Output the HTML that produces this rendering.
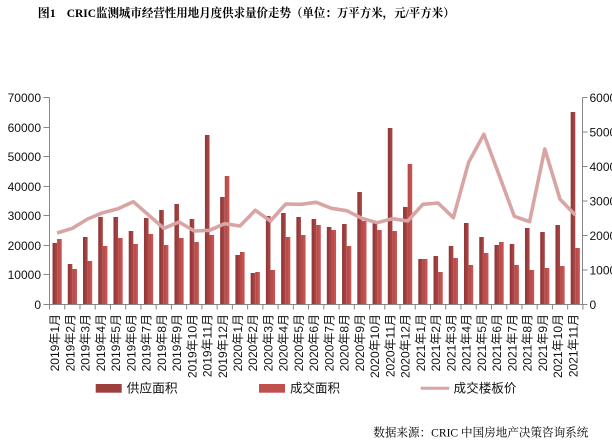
<!DOCTYPE html>
<html><head><meta charset="utf-8"><style>
html,body{margin:0;padding:0;background:#fff;}
svg{display:block;}
.ax{font-family:"Liberation Sans","Noto Sans CJK SC",sans-serif;font-size:12px;fill:#111;}
.lg{font-family:"Liberation Sans","Noto Sans CJK SC",sans-serif;font-size:12.5px;fill:#111;}
.tt{font-family:"Liberation Serif","Noto Serif CJK SC",serif;font-size:12px;font-weight:bold;fill:#000;}
.src{font-family:"Liberation Serif","Noto Serif CJK SC",serif;font-size:12px;fill:#000;}
</style></head><body>
<svg width="612" height="443" viewBox="0 0 612 443" xmlns="http://www.w3.org/2000/svg">
<defs>
<linearGradient id="gd" x1="0" y1="0" x2="1" y2="0"><stop offset="0" stop-color="#933838"/><stop offset="0.45" stop-color="#973a3a"/><stop offset="0.55" stop-color="#a44343"/><stop offset="1" stop-color="#a64444"/></linearGradient>
<linearGradient id="gl" x1="0" y1="0" x2="1" y2="0"><stop offset="0" stop-color="#b84a48"/><stop offset="0.45" stop-color="#bb4c4a"/><stop offset="0.55" stop-color="#c45351"/><stop offset="1" stop-color="#c65553"/></linearGradient>
</defs>
<text class="tt" x="37.7" y="17">图1</text>
<text class="tt" x="66.7" y="17" textLength="388" lengthAdjust="spacingAndGlyphs">CRIC监测城市经营性用地月度供求量价走势（单位：万平方米，元/平方米）</text>

<g fill="url(#gd)">
<rect x="52.52" y="243" width="4.6" height="61.5"/>
<rect x="67.76" y="264" width="4.6" height="40.5"/>
<rect x="83.00" y="237" width="4.6" height="67.5"/>
<rect x="98.24" y="217" width="4.6" height="87.5"/>
<rect x="113.48" y="217" width="4.6" height="87.5"/>
<rect x="128.72" y="231" width="4.6" height="73.5"/>
<rect x="143.96" y="218" width="4.6" height="86.5"/>
<rect x="159.20" y="210" width="4.6" height="94.5"/>
<rect x="174.44" y="204" width="4.6" height="100.5"/>
<rect x="189.68" y="219" width="4.6" height="85.5"/>
<rect x="204.92" y="135" width="4.6" height="169.5"/>
<rect x="220.16" y="197" width="4.6" height="107.5"/>
<rect x="235.40" y="255" width="4.6" height="49.5"/>
<rect x="250.64" y="273" width="4.6" height="31.5"/>
<rect x="265.88" y="216" width="4.6" height="88.5"/>
<rect x="281.12" y="213" width="4.6" height="91.5"/>
<rect x="296.36" y="217" width="4.6" height="87.5"/>
<rect x="311.60" y="219" width="4.6" height="85.5"/>
<rect x="326.84" y="227" width="4.6" height="77.5"/>
<rect x="342.08" y="224" width="4.6" height="80.5"/>
<rect x="357.32" y="192" width="4.6" height="112.5"/>
<rect x="372.56" y="223" width="4.6" height="81.5"/>
<rect x="387.80" y="128" width="4.6" height="176.5"/>
<rect x="403.04" y="207" width="4.6" height="97.5"/>
<rect x="418.28" y="259" width="4.6" height="45.5"/>
<rect x="433.52" y="256" width="4.6" height="48.5"/>
<rect x="448.76" y="246" width="4.6" height="58.5"/>
<rect x="464.00" y="223" width="4.6" height="81.5"/>
<rect x="479.24" y="237" width="4.6" height="67.5"/>
<rect x="494.48" y="245" width="4.6" height="59.5"/>
<rect x="509.72" y="244" width="4.6" height="60.5"/>
<rect x="524.96" y="228" width="4.6" height="76.5"/>
<rect x="540.20" y="232" width="4.6" height="72.5"/>
<rect x="555.44" y="225" width="4.6" height="79.5"/>
<rect x="570.68" y="112" width="4.6" height="192.5"/>
</g>
<g fill="url(#gl)">
<rect x="57.12" y="239" width="4.6" height="65.5"/>
<rect x="72.36" y="269" width="4.6" height="35.5"/>
<rect x="87.60" y="261" width="4.6" height="43.5"/>
<rect x="102.84" y="246" width="4.6" height="58.5"/>
<rect x="118.08" y="238" width="4.6" height="66.5"/>
<rect x="133.32" y="244" width="4.6" height="60.5"/>
<rect x="148.56" y="234" width="4.6" height="70.5"/>
<rect x="163.80" y="245" width="4.6" height="59.5"/>
<rect x="179.04" y="238" width="4.6" height="66.5"/>
<rect x="194.28" y="242" width="4.6" height="62.5"/>
<rect x="209.52" y="235" width="4.6" height="69.5"/>
<rect x="224.76" y="176" width="4.6" height="128.5"/>
<rect x="240.00" y="252" width="4.6" height="52.5"/>
<rect x="255.24" y="272" width="4.6" height="32.5"/>
<rect x="270.48" y="270" width="4.6" height="34.5"/>
<rect x="285.72" y="237" width="4.6" height="67.5"/>
<rect x="300.96" y="235" width="4.6" height="69.5"/>
<rect x="316.20" y="225" width="4.6" height="79.5"/>
<rect x="331.44" y="230" width="4.6" height="74.5"/>
<rect x="346.68" y="246" width="4.6" height="58.5"/>
<rect x="361.92" y="221" width="4.6" height="83.5"/>
<rect x="377.16" y="230" width="4.6" height="74.5"/>
<rect x="392.40" y="231" width="4.6" height="73.5"/>
<rect x="407.64" y="164" width="4.6" height="140.5"/>
<rect x="422.88" y="259" width="4.6" height="45.5"/>
<rect x="438.12" y="272" width="4.6" height="32.5"/>
<rect x="453.36" y="258" width="4.6" height="46.5"/>
<rect x="468.60" y="265" width="4.6" height="39.5"/>
<rect x="483.84" y="253" width="4.6" height="51.5"/>
<rect x="499.08" y="242" width="4.6" height="62.5"/>
<rect x="514.32" y="265" width="4.6" height="39.5"/>
<rect x="529.56" y="270" width="4.6" height="34.5"/>
<rect x="544.80" y="268" width="4.6" height="36.5"/>
<rect x="560.04" y="266" width="4.6" height="38.5"/>
<rect x="575.28" y="248" width="4.6" height="56.5"/>
</g>

<polyline fill="none" stroke="#d9a5a4" stroke-width="3.6" stroke-linejoin="round" stroke-linecap="butt" points="57.12,233 72.36,228.3 87.60,219 102.84,212.7 118.08,208.7 133.32,201.7 148.56,215 163.80,228.3 179.04,222 194.28,231 209.52,230.3 224.76,223.7 240.00,226 255.24,210.3 270.48,221 285.72,204 300.96,204.3 316.20,202.3 331.44,208.3 346.68,210.7 361.92,218.3 377.16,222.7 392.40,218.7 407.64,221 422.88,204.3 438.12,203 453.36,217.7 468.60,162.3 483.84,134.3 499.08,175 514.32,216.3 529.56,221.7 544.80,149 560.04,199.3 575.28,215"/>

<g stroke="#868686" stroke-width="1" fill="none">
<path d="M49.5 97.5V304.5M582.5 97.5V304.5M49.5 304.5H582.5"/>
<path d="M43.5 97.5H49.5M43.5 127.5H49.5M43.5 156.5H49.5M43.5 186.5H49.5M43.5 215.5H49.5M43.5 245.5H49.5M43.5 274.5H49.5M43.5 304.5H49.5"/>
<path d="M582.5 97.5H587.5M582.5 132H587.5M582.5 166.5H587.5M582.5 201H587.5M582.5 235.5H587.5M582.5 270H587.5M582.5 304.5H587.5"/>
<path d="M49.5 304.5v5M64.74 304.5v5M79.98 304.5v5M95.22 304.5v5M110.46 304.5v5M125.7 304.5v5M140.94 304.5v5M156.18 304.5v5M171.42 304.5v5M186.66 304.5v5M201.9 304.5v5M217.14 304.5v5M232.38 304.5v5M247.62 304.5v5M262.86 304.5v5M278.1 304.5v5M293.34 304.5v5M308.58 304.5v5M323.82 304.5v5M339.06 304.5v5M354.3 304.5v5M369.54 304.5v5M384.78 304.5v5M400.02 304.5v5M415.26 304.5v5M430.5 304.5v5M445.74 304.5v5M460.98 304.5v5M476.22 304.5v5M491.46 304.5v5M506.7 304.5v5M521.94 304.5v5M537.18 304.5v5M552.42 304.5v5M567.66 304.5v5M582.9 304.5v5"/>
</g>

<g class="ax" text-anchor="end">
<text x="41" y="101.8">70000</text>
<text x="41" y="131.8">60000</text>
<text x="41" y="160.8">50000</text>
<text x="41" y="190.8">40000</text>
<text x="41" y="219.8">30000</text>
<text x="41" y="249.8">20000</text>
<text x="41" y="278.8">10000</text>
<text x="41" y="308.8">0</text>
</g>
<g class="ax">
<text x="589.5" y="101.8">6000</text>
<text x="589.5" y="136.3">5000</text>
<text x="589.5" y="170.8">4000</text>
<text x="589.5" y="205.3">3000</text>
<text x="589.5" y="239.8">2000</text>
<text x="589.5" y="274.3">1000</text>
<text x="589.5" y="308.8">0</text>
</g>

<g class="ax" text-anchor="end">
<text transform="translate(59.12,314) rotate(-90)">2019年1月</text>
<text transform="translate(74.36,314) rotate(-90)">2019年2月</text>
<text transform="translate(89.60,314) rotate(-90)">2019年3月</text>
<text transform="translate(104.84,314) rotate(-90)">2019年4月</text>
<text transform="translate(120.08,314) rotate(-90)">2019年5月</text>
<text transform="translate(135.32,314) rotate(-90)">2019年6月</text>
<text transform="translate(150.56,314) rotate(-90)">2019年7月</text>
<text transform="translate(165.80,314) rotate(-90)">2019年8月</text>
<text transform="translate(181.04,314) rotate(-90)">2019年9月</text>
<text transform="translate(196.28,314) rotate(-90)">2019年10月</text>
<text transform="translate(211.52,314) rotate(-90)">2019年11月</text>
<text transform="translate(226.76,314) rotate(-90)">2019年12月</text>
<text transform="translate(242.00,314) rotate(-90)">2020年1月</text>
<text transform="translate(257.24,314) rotate(-90)">2020年2月</text>
<text transform="translate(272.48,314) rotate(-90)">2020年3月</text>
<text transform="translate(287.72,314) rotate(-90)">2020年4月</text>
<text transform="translate(302.96,314) rotate(-90)">2020年5月</text>
<text transform="translate(318.20,314) rotate(-90)">2020年6月</text>
<text transform="translate(333.44,314) rotate(-90)">2020年7月</text>
<text transform="translate(348.68,314) rotate(-90)">2020年8月</text>
<text transform="translate(363.92,314) rotate(-90)">2020年9月</text>
<text transform="translate(379.16,314) rotate(-90)">2020年10月</text>
<text transform="translate(394.40,314) rotate(-90)">2020年11月</text>
<text transform="translate(409.64,314) rotate(-90)">2020年12月</text>
<text transform="translate(424.88,314) rotate(-90)">2021年1月</text>
<text transform="translate(440.12,314) rotate(-90)">2021年2月</text>
<text transform="translate(455.36,314) rotate(-90)">2021年3月</text>
<text transform="translate(470.60,314) rotate(-90)">2021年4月</text>
<text transform="translate(485.84,314) rotate(-90)">2021年5月</text>
<text transform="translate(501.08,314) rotate(-90)">2021年6月</text>
<text transform="translate(516.32,314) rotate(-90)">2021年7月</text>
<text transform="translate(531.56,314) rotate(-90)">2021年8月</text>
<text transform="translate(546.80,314) rotate(-90)">2021年9月</text>
<text transform="translate(562.04,314) rotate(-90)">2021年10月</text>
<text transform="translate(577.28,314) rotate(-90)">2021年11月</text>
</g>

<rect x="95.7" y="384" width="26" height="8.7" fill="#9e3f3e"/>
<text class="lg" x="126.7" y="392.5" textLength="51" lengthAdjust="spacingAndGlyphs">供应面积</text>
<rect x="259" y="384" width="26" height="8.7" fill="#c0504d"/>
<text class="lg" x="290" y="392.5" textLength="50" lengthAdjust="spacingAndGlyphs">成交面积</text>
<line x1="420.7" y1="388.3" x2="449.3" y2="388.3" stroke="#d9a5a4" stroke-width="3"/>
<text class="lg" x="453.5" y="392.5" textLength="63" lengthAdjust="spacingAndGlyphs">成交楼板价</text>

<text class="src" x="373.3" y="436.5" textLength="215" lengthAdjust="spacingAndGlyphs">数据来源：CRIC 中国房地产决策咨询系统</text>
</svg>
</body></html>
